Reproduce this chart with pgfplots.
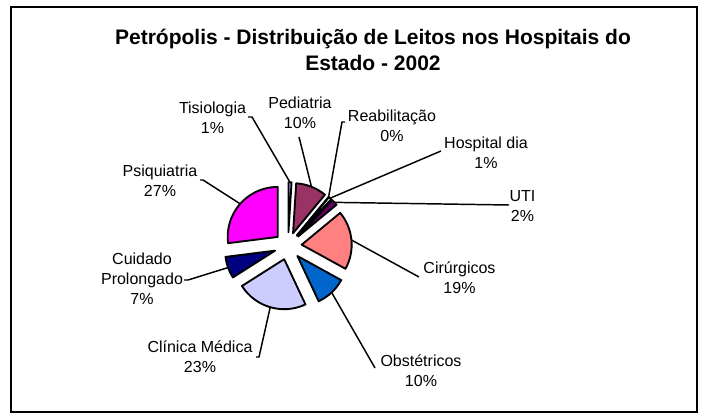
\documentclass[border=0pt]{standalone}
\usepackage{fontspec}
\setmainfont{Liberation Sans}
\usepackage{pgfplots}
\pgfplotsset{compat=1.18}

\definecolor{c1}{HTML}{9999FF}
\definecolor{c2}{HTML}{993366}
\definecolor{c3}{HTML}{FFFFCC}
\definecolor{c4}{HTML}{CCFFFF}
\definecolor{c5}{HTML}{660066}
\definecolor{c6}{HTML}{FF8080}
\definecolor{c7}{HTML}{0066CC}
\definecolor{c8}{HTML}{CCCCFF}
\definecolor{c9}{HTML}{000080}
\definecolor{c10}{HTML}{FF00FF}

\begin{document}
\begin{tikzpicture}
\begin{axis}[
    hide axis,
    scale only axis,
    width=540.75pt, height=315pt,
    xmin=0, xmax=721, ymin=0, ymax=420,
    y dir=reverse,
    clip=false,
]
\pgfplotsextra{
    \path (axis cs:0,0) rectangle (axis cs:721,420);
    \draw[line width=1.5pt] (axis cs:11,7) rectangle (axis cs:697,412);
    \node[align=center, font=\bfseries\fontsize{15.75}{19.5}\selectfont]
        at (axis cs:373,50) {Petrópolis - Distribuição de Leitos nos Hospitais do\\Estado - 2002};
    % valor / cor / rotulo (x,y) / texto / inicio da linha / quebra
    \xdef\cum{0}
    \foreach \val/\col/\lx/\ly/\lab/\sx/\sy/\ex/\ey in {
        1/c1/212.5/118/{Tisiologia\\1\%}/248/117/252/117,
        10/c2/300/112.5/{Pediatria\\10\%}/299/137/299/137,
        0/c3/392/125.5/{Reabilitação\\0\%}/345/122/342/122,
        1/c4/486/152.5/{Hospital dia\\1\%}/441/151/441/151,
        2/c5/522.5/206.5/{UTI\\2\%}/509/205/509/205,
        19/c6/459.5/278/{Cirúrgicos\\19\%}/419/277/419/277,
        10/c7/421/370.5/{Obstétricos\\10\%}/375/368/375/368,
        23/c8/200/357/{Clínica Médica\\23\%}/256/357/259/357,
        7/c9/142/279/{Cuidado\\Prolongado\\7\%}/184/280/188/280,
        27/c10/160/181/{Psiquiatria\\27\%}/200/180/203/180%
    }{
        \pgfmathsetmacro\as{90-3.6*\cum}
        \pgfmathsetmacro\ae{\as-3.6*\val}
        \pgfmathsetmacro\am{\as-1.8*\val}
        \filldraw[fill=\col, line width=1.4pt, line join=round]
            (axis cs:288,246) ++(\am:10.3pt) -- ++(\as:37.5pt)
            arc[start angle=\as, end angle=\ae, radius=37.5pt] -- cycle;
        \draw[line width=1.1pt] (axis cs:\sx,\sy) -- (axis cs:\ex,\ey)
            -- ([shift={(\am:47.8pt)}]axis cs:288,246);
        \node[align=center, font=\fontsize{12}{15}\selectfont]
            at (axis cs:\lx,\ly) {\lab};
        \pgfmathsetmacro\newcum{\cum+\val}
        \xdef\cum{\newcum}
    }
}
\end{axis}
\end{tikzpicture}
\end{document}
